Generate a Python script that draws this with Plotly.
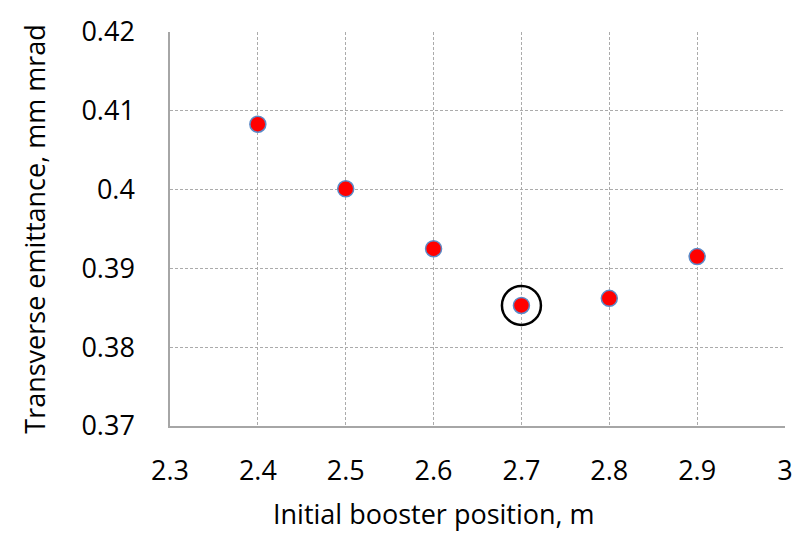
import plotly.graph_objects as go

positions = [2.4, 2.5, 2.6, 2.7, 2.8, 2.9]
emittance = [0.4083, 0.4001, 0.3925, 0.3853, 0.3862, 0.3915]
best_position = [2.7]
best_emittance = [0.3853]

font = "'Open Sans', sans-serif"

fig = go.Figure()
fig.add_trace(go.Scatter(
    x=positions, y=emittance, mode="markers",
    marker=dict(size=16, color="#FF0000", line=dict(color="#5B8BC9", width=1.5)),
    showlegend=False, cliponaxis=False,
))
fig.add_trace(go.Scatter(
    x=best_position, y=best_emittance, mode="markers",
    marker=dict(size=39, symbol="circle-open", color="black", line=dict(color="black", width=2.5)),
    showlegend=False, cliponaxis=False,
))

grid = dict(showgrid=True, gridcolor="#ABABAB", griddash="3px,2px", gridwidth=1, zeroline=False)
fig.update_layout(
    width=805, height=535,
    margin=dict(l=170, r=19, t=21, b=109),
    plot_bgcolor="white", paper_bgcolor="white",
    font=dict(family=font, size=27, color="#000000"),
    xaxis=dict(range=[2.3, 3.0], tickvals=[2.3, 2.4, 2.5, 2.6, 2.7, 2.8, 2.9, 3.0],
               ticktext=["2.3", "2.4", "2.5", "2.6", "2.7", "2.8", "2.9", "3"],
               showline=True, linecolor="#A6A6A6", linewidth=1.5, ticks="",
               ticklabelstandoff=20,
               **grid),
    yaxis=dict(range=[0.37, 0.42], tickvals=[0.37, 0.38, 0.39, 0.40, 0.41, 0.42],
               ticktext=["0.37", "0.38", "0.39", "0.4", "0.41", "0.42"],
               showline=True, linecolor="#A6A6A6", linewidth=1.5, ticks="",
               ticklabelstandoff=28,
               title=dict(text="Transverse emittance, mm mrad", standoff=28, font=dict(size=27)),
               **grid),
    annotations=[dict(text="Initial booster position, m", xref="paper", yref="paper",
                      x=0.43, y=-0.222, xanchor="center", yanchor="middle",
                      showarrow=False, font=dict(size=27))],
)
fig.write_html("out.html")
